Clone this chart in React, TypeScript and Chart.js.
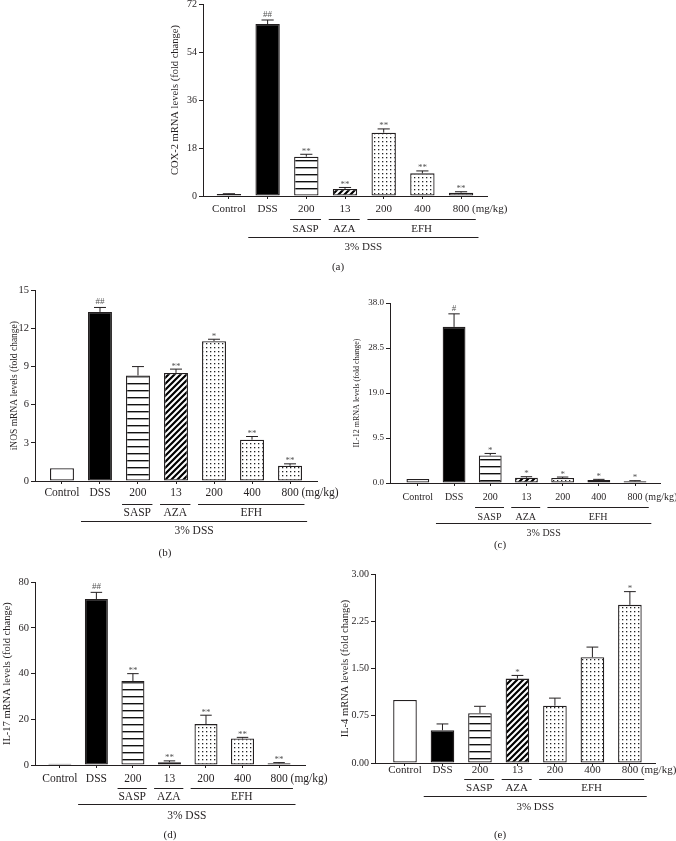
import React, { useEffect, useRef } from 'react';
import { Chart, registerables } from 'chart.js';

Chart.register(...registerables);

const FONT = "'Liberation Serif', 'Times New Roman', serif";
const INK = '#231f20';
const SIG_INK = '#555555';

// ---- shared categories / groups ----
const categories = ['Control', 'DSS', '200', '13', '200', '400', '800'];
const doseUnit = '(mg/kg)';
const groupNames = ['SASP', 'AZA', 'EFH'];
const groupFirst = [2, 3, 4];
const groupLast = [2, 3, 6];
const outerName = '3% DSS';
const outerFirst = 1;
const outerLast = 6;
const fillKinds = ['open', 'solid', 'hlines', 'diag', 'dots', 'dots', 'dots'];

// ---- (a) COX-2 ----
const cox2Mean = [0.75, 64.5, 14.75, 2.6, 23.75, 8.5, 1.25];
const cox2Err = [0.1, 1.5, 0.9, 0.6, 1.4, 0.9, 0.35];
const cox2Sig = ['', '##', '**', '**', '**', '**', '**'];
const cox2Ticks = [0, 18, 36, 54, 72];

// ---- (b) iNOS ----
const inosMean = [1.0, 13.3, 8.3, 8.5, 11.0, 3.25, 1.2];
const inosErr = [0, 0.35, 0.7, 0.3, 0.15, 0.25, 0.15];
const inosSig = ['', '##', '', '**', '*', '**', '**'];
const inosTicks = [0, 3, 6, 9, 12, 15];

// ---- (c) IL-12 ----
const il12Mean = [0.84, 32.96, 5.82, 1.12, 1.05, 0.63, 0.35];
const il12Err = [0, 2.75, 0.42, 0.21, 0.21, 0.14, 0.14];
const il12Sig = ['', '#', '*', '*', '*', '*', '*'];
const il12Ticks = [0, 9.5, 19, 28.5, 38];

// ---- (d) IL-17 ----
const il17Mean = [0.6, 72.7, 36.8, 1.2, 17.9, 11.6, 0.75];
const il17Err = [0, 2.9, 3.2, 0.6, 3.9, 0.5, 0.3];
const il17Sig = ['', '##', '**', '**', '**', '**', '**'];
const il17Ticks = [0, 20, 40, 60, 80];

// ---- (e) IL-4 ----
const il4Mean = [1.0, 0.52, 0.79, 1.34, 0.91, 1.68, 2.51];
const il4Err = [0, 0.1, 0.11, 0.05, 0.12, 0.16, 0.21];
const il4Sig = ['', '', '', '*', '', '', '*'];
const il4Ticks = [0, 0.75, 1.5, 2.25, 3.0];

// ---- layout (not data) ----
const Y_W = 50;
const PAD_T = 8;
const X_H = 86;
const X_TICK_LEN = 3;

type Panel = {
  label: string;
  title: string;
  mean: number[];
  err: number[];
  sig: string[];
  yTicks: number[];
  decimals: number;
  axisX: number;
  axisRight: number;
  yTop: number;
  yBottom: number;
  xMin: number;
  xMax: number;
  titleGap: number;
  titleSize: number;
  xTickSize: number;
  yTickSize: number;
  labelOff: number;
  lineOff: number;
  groupOff: number;
  outerLineOff: number;
  outerOff: number;
  panelOff: number;
  panelX: number;
};

const panels: Panel[] = [
  {
    label: '(a)', title: 'COX-2 mRNA levels (fold change)', mean: cox2Mean, err: cox2Err, sig: cox2Sig,
    yTicks: cox2Ticks, decimals: 0,
    axisX: 203, axisRight: 487, yTop: 4, yBottom: 196, xMin: -0.67, xMax: 6.67,
    titleGap: 28, titleSize: 10.5, xTickSize: 11, yTickSize: 10,
    labelOff: 13, lineOff: 23, groupOff: 33, outerLineOff: 41, outerOff: 51, panelOff: 71, panelX: 338,
  },
  {
    label: '(b)', title: 'iNOS mRNA levels (fold change)', mean: inosMean, err: inosErr, sig: inosSig,
    yTicks: inosTicks, decimals: 0,
    axisX: 35, axisRight: 317, yTop: 290, yBottom: 481, xMin: -0.71, xMax: 6.71,
    titleGap: 21, titleSize: 9.5, xTickSize: 11.5, yTickSize: 10.5,
    labelOff: 12, lineOff: 23, groupOff: 32, outerLineOff: 40, outerOff: 50, panelOff: 72, panelX: 165,
  },
  {
    label: '(c)', title: 'IL-12 mRNA levels (fold change)', mean: il12Mean, err: il12Err, sig: il12Sig,
    yTicks: il12Ticks, decimals: 1,
    axisX: 390, axisRight: 660, yTop: 303, yBottom: 483, xMin: -0.77, xMax: 6.69,
    titleGap: 33, titleSize: 8, xTickSize: 10, yTickSize: 9,
    labelOff: 14, lineOff: 24, groupOff: 34, outerLineOff: 40, outerOff: 50, panelOff: 62, panelX: 500,
  },
  {
    label: '(d)', title: 'IL-17 mRNA levels (fold change)', mean: il17Mean, err: il17Err, sig: il17Sig,
    yTicks: il17Ticks, decimals: 0,
    axisX: 35, axisRight: 305, yTop: 582, yBottom: 765, xMin: -0.68, xMax: 6.71,
    titleGap: 28, titleSize: 10.5, xTickSize: 11.5, yTickSize: 10.5,
    labelOff: 14, lineOff: 23, groupOff: 32, outerLineOff: 39, outerOff: 51, panelOff: 70, panelX: 170,
  },
  {
    label: '(e)', title: 'IL-4 mRNA levels (fold change)', mean: il4Mean, err: il4Err, sig: il4Sig,
    yTicks: il4Ticks, decimals: 2,
    axisX: 375, axisRight: 655, yTop: 574, yBottom: 763, xMin: -0.8, xMax: 6.67,
    titleGap: 30, titleSize: 10.5, xTickSize: 11, yTickSize: 10,
    labelOff: 7, lineOff: 16, groupOff: 25, outerLineOff: 33, outerOff: 44, panelOff: 72, panelX: 500,
  },
];

function makeFill(kind: string): string | CanvasPattern {
  if (kind === 'solid') return '#000000';
  if (kind === 'open') return '#ffffff';
  const c = document.createElement('canvas');
  const g = c.getContext('2d') as CanvasRenderingContext2D;
  if (kind === 'hlines') {
    c.width = 8; c.height = 7;
    g.fillStyle = '#fff'; g.fillRect(0, 0, 8, 7);
    g.fillStyle = '#111'; g.fillRect(0, 3, 8, 1.4);
  } else if (kind === 'diag') {
    c.width = 6; c.height = 6;
    g.fillStyle = '#fff'; g.fillRect(0, 0, 6, 6);
    g.strokeStyle = '#000'; g.lineWidth = 2.2;
    g.beginPath();
    g.moveTo(-1, 7); g.lineTo(7, -1);
    g.moveTo(-4, 4); g.lineTo(4, -4);
    g.moveTo(2, 10); g.lineTo(10, 2);
    g.stroke();
  } else {
    c.width = 4; c.height = 4;
    g.fillStyle = '#fff'; g.fillRect(0, 0, 4, 4);
    g.fillStyle = '#222'; g.fillRect(1, 1, 1.3, 1.3);
  }
  return g.createPattern(c, 'repeat') as CanvasPattern;
}

const decorPlugin = {
  id: 'decor',
  afterDatasetsDraw(chart: any, _args: any, opts: any) {
    const p: Panel = opts.panel;
    const ctx: CanvasRenderingContext2D = chart.ctx;
    const y = chart.scales.y;
    const meta = chart.getDatasetMeta(0);
    ctx.save();
    ctx.strokeStyle = INK;
    ctx.lineWidth = 1;
    meta.data.forEach((bar: any, i: number) => {
      const e = p.err[i];
      let topY = bar.y;
      if (e > 0) {
        topY = y.getPixelForValue(p.mean[i] + e);
        const w = bar.width / 4;
        ctx.beginPath();
        ctx.moveTo(bar.x, bar.y);
        ctx.lineTo(bar.x, topY);
        ctx.moveTo(bar.x - w, topY);
        ctx.lineTo(bar.x + w, topY);
        ctx.stroke();
      }
      if (p.sig[i]) {
        ctx.fillStyle = SIG_INK;
        ctx.font = `9px ${FONT}`;
        ctx.textAlign = 'center';
        ctx.textBaseline = 'alphabetic';
        const isHash = p.sig[i].indexOf('#') >= 0;
        ctx.fillText(p.sig[i], bar.x, topY - (isHash ? 3 : 0.5));
      }
    });
    ctx.restore();
  },
  afterDraw(chart: any, _args: any, opts: any) {
    const p: Panel = opts.panel;
    const ctx: CanvasRenderingContext2D = chart.ctx;
    const x = chart.scales.x;
    const base = chart.chartArea.bottom;
    ctx.save();
    ctx.strokeStyle = INK;
    ctx.fillStyle = INK;
    ctx.lineWidth = 1;
    ctx.font = `${p.xTickSize}px ${FONT}`;
    ctx.textBaseline = 'middle';
    // unit after the last dose
    const last = categories.length - 1;
    const lastX = x.getPixelForValue(last);
    const lw = ctx.measureText(categories[last]).width;
    ctx.textAlign = 'left';
    ctx.fillText(' ' + doseUnit, lastX + lw / 2, base + p.labelOff);
    // groups
    ctx.textAlign = 'center';
    groupNames.forEach((name, k) => {
      const x1 = x.getPixelForValue(groupFirst[k] - 0.42);
      const x2 = x.getPixelForValue(groupLast[k] + 0.38);
      const ly = Math.round(base + p.lineOff) + 0.5;
      ctx.beginPath();
      ctx.moveTo(x1, ly);
      ctx.lineTo(x2, ly);
      ctx.stroke();
      ctx.fillText(name, (x1 + x2) / 2, base + p.groupOff);
    });
    const ox1 = x.getPixelForValue(outerFirst - 0.5);
    const ox2 = x.getPixelForValue(outerLast + 0.45);
    const oy = Math.round(base + p.outerLineOff) + 0.5;
    ctx.beginPath();
    ctx.moveTo(ox1, oy);
    ctx.lineTo(ox2, oy);
    ctx.stroke();
    ctx.fillText(outerName, (ox1 + ox2) / 2, base + p.outerOff);
    // panel label
    ctx.font = `11px ${FONT}`;
    ctx.fillText(p.label, opts.panelXLocal, base + p.panelOff);
    ctx.restore();
  },
};

function ChartPanel({ p }: { p: Panel }) {
  const ref = useRef<HTMLCanvasElement>(null);
  const left = p.axisX - Y_W;
  const top = p.yTop - PAD_T;
  const width = p.axisRight + 48 - left;
  const height = p.yBottom - top + X_H;
  const padRight = width - (p.axisRight - left);

  useEffect(() => {
    const canvas = ref.current;
    if (!canvas) return;
    const fills = fillKinds.map((k) => makeFill(k));
    const xTickPad = p.labelOff - X_TICK_LEN - (p.xTickSize * 1.2) / 2;
    const titleLH = p.titleSize * 1.2;
    const titlePadTop = Y_W - p.titleGap - titleLH / 2;
    const chart = new Chart(canvas, {
      type: 'bar',
      data: {
        datasets: [
          {
            data: p.mean.map((v, i) => ({ x: i, y: v })),
            backgroundColor: fills as any,
            borderColor: INK,
            borderWidth: 1.3,
            borderSkipped: false as any,
            barPercentage: 0.63,
            categoryPercentage: 1,
          } as any,
        ],
      },
      options: {
        animation: false,
        responsive: false,
        maintainAspectRatio: false,
        devicePixelRatio: 1,
        events: [],
        layout: { padding: { left: 0, top: PAD_T, right: padRight, bottom: 0 } },
        plugins: {
          legend: { display: false },
          tooltip: { enabled: false },
          decor: { panel: p, panelXLocal: p.panelX - left },
        } as any,
        scales: {
          x: {
            type: 'linear',
            min: p.xMin,
            max: p.xMax,
            offset: false,
            grid: {
              display: true,
              drawOnChartArea: false,
              drawTicks: true,
              tickLength: X_TICK_LEN,
              offset: false,
              color: INK,
              lineWidth: 1,
            },
            border: { display: true, color: INK, width: 1 },
            ticks: {
              autoSkip: false,
              maxRotation: 0,
              minRotation: 0,
              padding: xTickPad,
              color: INK,
              font: { family: FONT, size: p.xTickSize },
              callback: (_v: any, idx: number) => categories[idx],
            },
            afterBuildTicks: (scale: any) => {
              scale.ticks = categories.map((_c, i) => ({ value: i }));
            },
            afterFit: (scale: any) => {
              scale.height = X_H;
            },
          } as any,
          y: {
            type: 'linear',
            min: 0,
            max: p.yTicks[p.yTicks.length - 1],
            grid: {
              display: true,
              drawOnChartArea: false,
              drawTicks: true,
              tickLength: 4,
              color: INK,
              lineWidth: 1,
            },
            border: { display: true, color: INK, width: 1 },
            ticks: {
              padding: 2,
              color: INK,
              font: { family: FONT, size: p.yTickSize },
              callback: (v: any) => Number(v).toFixed(p.decimals),
            },
            afterBuildTicks: (scale: any) => {
              scale.ticks = p.yTicks.map((v) => ({ value: v }));
            },
            afterFit: (scale: any) => {
              scale.width = Y_W;
            },
            title: {
              display: true,
              text: p.title,
              color: INK,
              font: { family: FONT, size: p.titleSize },
              padding: { top: titlePadTop, bottom: 0 },
            },
          } as any,
        },
      },
      plugins: [decorPlugin as any],
    });
    return () => chart.destroy();
  }, [p]);

  return (
    <canvas
      ref={ref}
      width={width}
      height={height}
      style={{ position: 'absolute', left, top, width, height }}
    />
  );
}

export default function App() {
  return (
    <div
      style={{
        position: 'absolute',
        left: 0,
        top: 0,
        width: 676,
        height: 841,
        overflow: 'hidden',
        background: '#ffffff',
      }}
    >
      {panels.map((p) => (
        <ChartPanel key={p.label} p={p} />
      ))}
    </div>
  );
}
